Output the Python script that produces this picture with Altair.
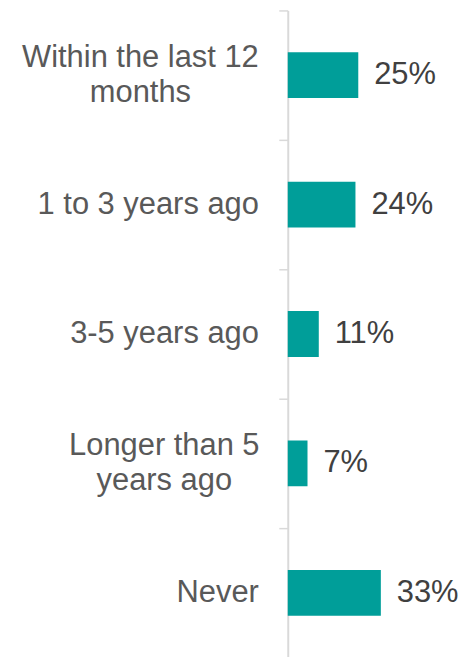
import altair as alt
import pandas as pd

categories = ["Within the last 12|months", "1 to 3 years ago", "3-5 years ago",
              "Longer than 5|years ago", "Never"]
values = [25, 24, 11, 7, 33]
value_labels = ["25%", "24%", "11%", "7%", "33%"]

df = pd.DataFrame({"cat": categories, "val": values, "lab": value_labels})

y = alt.Y("cat:N", sort=categories, title=None,
          scale=alt.Scale(paddingInner=0, paddingOuter=0),
          axis=alt.Axis(labels=False, tickSize=9, tickBand="extent",
                        tickColor="#D9D9D9", tickWidth=1.5,
                        domainColor="#D9D9D9", domainWidth=2))
x = alt.X("val:Q", title=None, scale=alt.Scale(domain=[0, 60]), axis=None)

base = alt.Chart(df)
bars = base.mark_bar(size=46, color="#009E99").encode(x=x, y=y)
text = base.mark_text(align="left", baseline="middle", dx=16,
                      font="Liberation Sans", fontSize=31,
                      color="#404040").encode(x=x, y=y, text="lab:N")

lab_style = dict(baseline="middle", font="Liberation Sans", fontSize=31,
                 lineBreak="|", lineHeight=35, color="#595959")
single = base.transform_filter("indexof(datum.cat, '|') < 0").mark_text(
    align="right", **lab_style).encode(x=alt.value(-29), y=y, text="cat:N")
multi1 = base.transform_filter(alt.datum.cat == categories[0]).mark_text(
    align="center", dy=-17, **lab_style).encode(x=alt.value(-148), y=y, text="cat:N")
multi2 = base.transform_filter(alt.datum.cat == categories[3]).mark_text(
    align="center", dy=-17, **lab_style).encode(x=alt.value(-124), y=y, text="cat:N")

chart = (bars + text + single + multi1 + multi2).properties(
    width=170, height=650,
    padding={"left": 14, "top": 0, "right": 0, "bottom": 0}
).configure_view(stroke=None)

chart.save("out.html", embed_options={"renderer": "svg", "actions": False})
